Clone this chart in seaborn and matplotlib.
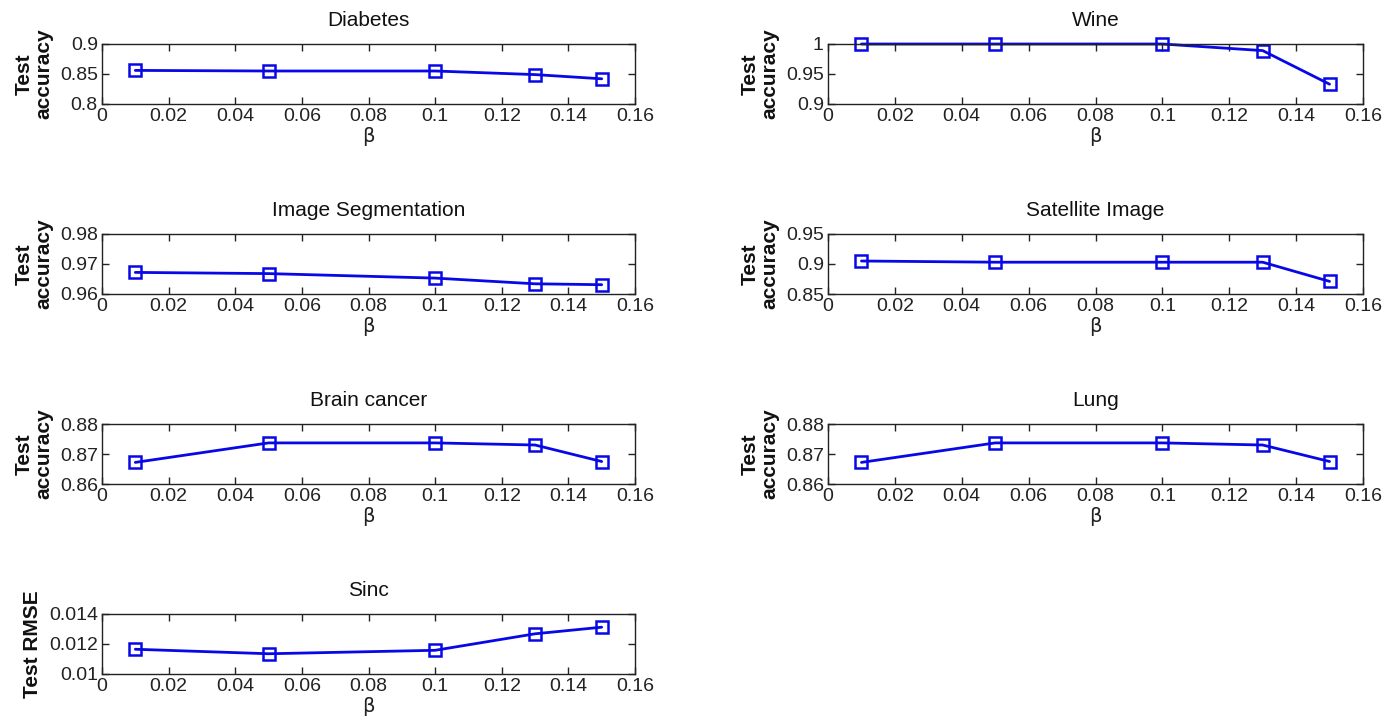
import matplotlib
matplotlib.use("Agg")
import matplotlib.pyplot as plt
import seaborn as sns
import pandas as pd
import numpy as np

beta = [0.01, 0.05, 0.10, 0.13, 0.15]

titles = ["Diabetes", "Wine", "Image Segmentation", "Satellite Image",
          "Brain cancer", "Lung", "Sinc"]
diabetes = [0.856, 0.855, 0.855, 0.849, 0.842]
wine = [1.000, 1.000, 1.000, 0.989, 0.933]
image_seg = [0.9672, 0.9668, 0.9653, 0.9634, 0.9631]
satellite = [0.905, 0.903, 0.903, 0.903, 0.871]
brain = [0.8672, 0.8737, 0.8737, 0.8730, 0.8675]
lung = [0.8672, 0.8737, 0.8737, 0.8730, 0.8675]
sinc = [0.01165, 0.01135, 0.01158, 0.01268, 0.01312]

series = [diabetes, wine, image_seg, satellite, brain, lung, sinc]
ylabels = ["Test\naccuracy"] * 6 + ["Test RMSE"]
yticks = [[0.8, 0.85, 0.9], [0.9, 0.95, 1.0], [0.96, 0.97, 0.98],
          [0.85, 0.9, 0.95], [0.86, 0.87, 0.88], [0.86, 0.87, 0.88],
          [0.010, 0.012, 0.014]]
yticklabels = [["0.8", "0.85", "0.9"], ["0.9", "0.95", "1"], ["0.96", "0.97", "0.98"],
               ["0.85", "0.9", "0.95"], ["0.86", "0.87", "0.88"], ["0.86", "0.87", "0.88"],
               ["0.01", "0.012", "0.014"]]
xticks = [0, 0.02, 0.04, 0.06, 0.08, 0.10, 0.12, 0.14, 0.16]
xticklabels = ["0", "0.02", "0.04", "0.06", "0.08", "0.1", "0.12", "0.14", "0.16"]

sns.set_style("white")
plt.rcParams["font.family"] = ["Liberation Sans", "DejaVu Sans"]

fig = plt.figure(figsize=(13.98, 7.26), dpi=100)
W, H = 1398.0, 726.0
lefts = [102, 828]
widths = [533, 535]
tops = [44, 234, 424, 614]
ah = 60

for i, (title, vals) in enumerate(zip(titles, series)):
    r, c = divmod(i, 2)
    ax = fig.add_axes([lefts[c] / W, 1 - (tops[r] + ah) / H, widths[c] / W, ah / H])
    df = pd.DataFrame({"beta": beta, "acc": vals})
    sns.lineplot(data=df, x="beta", y="acc", ax=ax, color="#0808e6", linewidth=2.0,
                 marker="s", markersize=9, markerfacecolor="none",
                 markeredgecolor="#0808e6", markeredgewidth=1.8, clip_on=False,
                 zorder=1)
    ax.set_xlim(0, 0.16)
    ax.set_ylim(yticks[i][0], yticks[i][-1])
    ax.set_xticks(xticks)
    ax.set_xticklabels(xticklabels, fontsize=14)
    ax.set_yticks(yticks[i])
    ax.set_yticklabels(yticklabels[i], fontsize=14)
    ax.tick_params(direction="in", length=5, width=1, top=True, right=True,
                   bottom=True, left=True, pad=3, colors="#222222", labelcolor="#222222")
    for s in ax.spines.values():
        s.set_visible(True)
        s.set_color("#222222")
        s.set_linewidth(1.0)
        s.set_zorder(3)
    ax.set_title(title, fontsize=15, pad=13, color="#111111")
    ax.set_xlabel("β", fontsize=14, labelpad=1, family=["DejaVu Sans"], color="#222222")
    ax.set_ylabel(ylabels[i], fontsize=15, fontweight="bold", labelpad=5,
                  linespacing=1.0, color="#111111")
    ax.grid(False)

fig.savefig("out.png", dpi=100, facecolor="white")
